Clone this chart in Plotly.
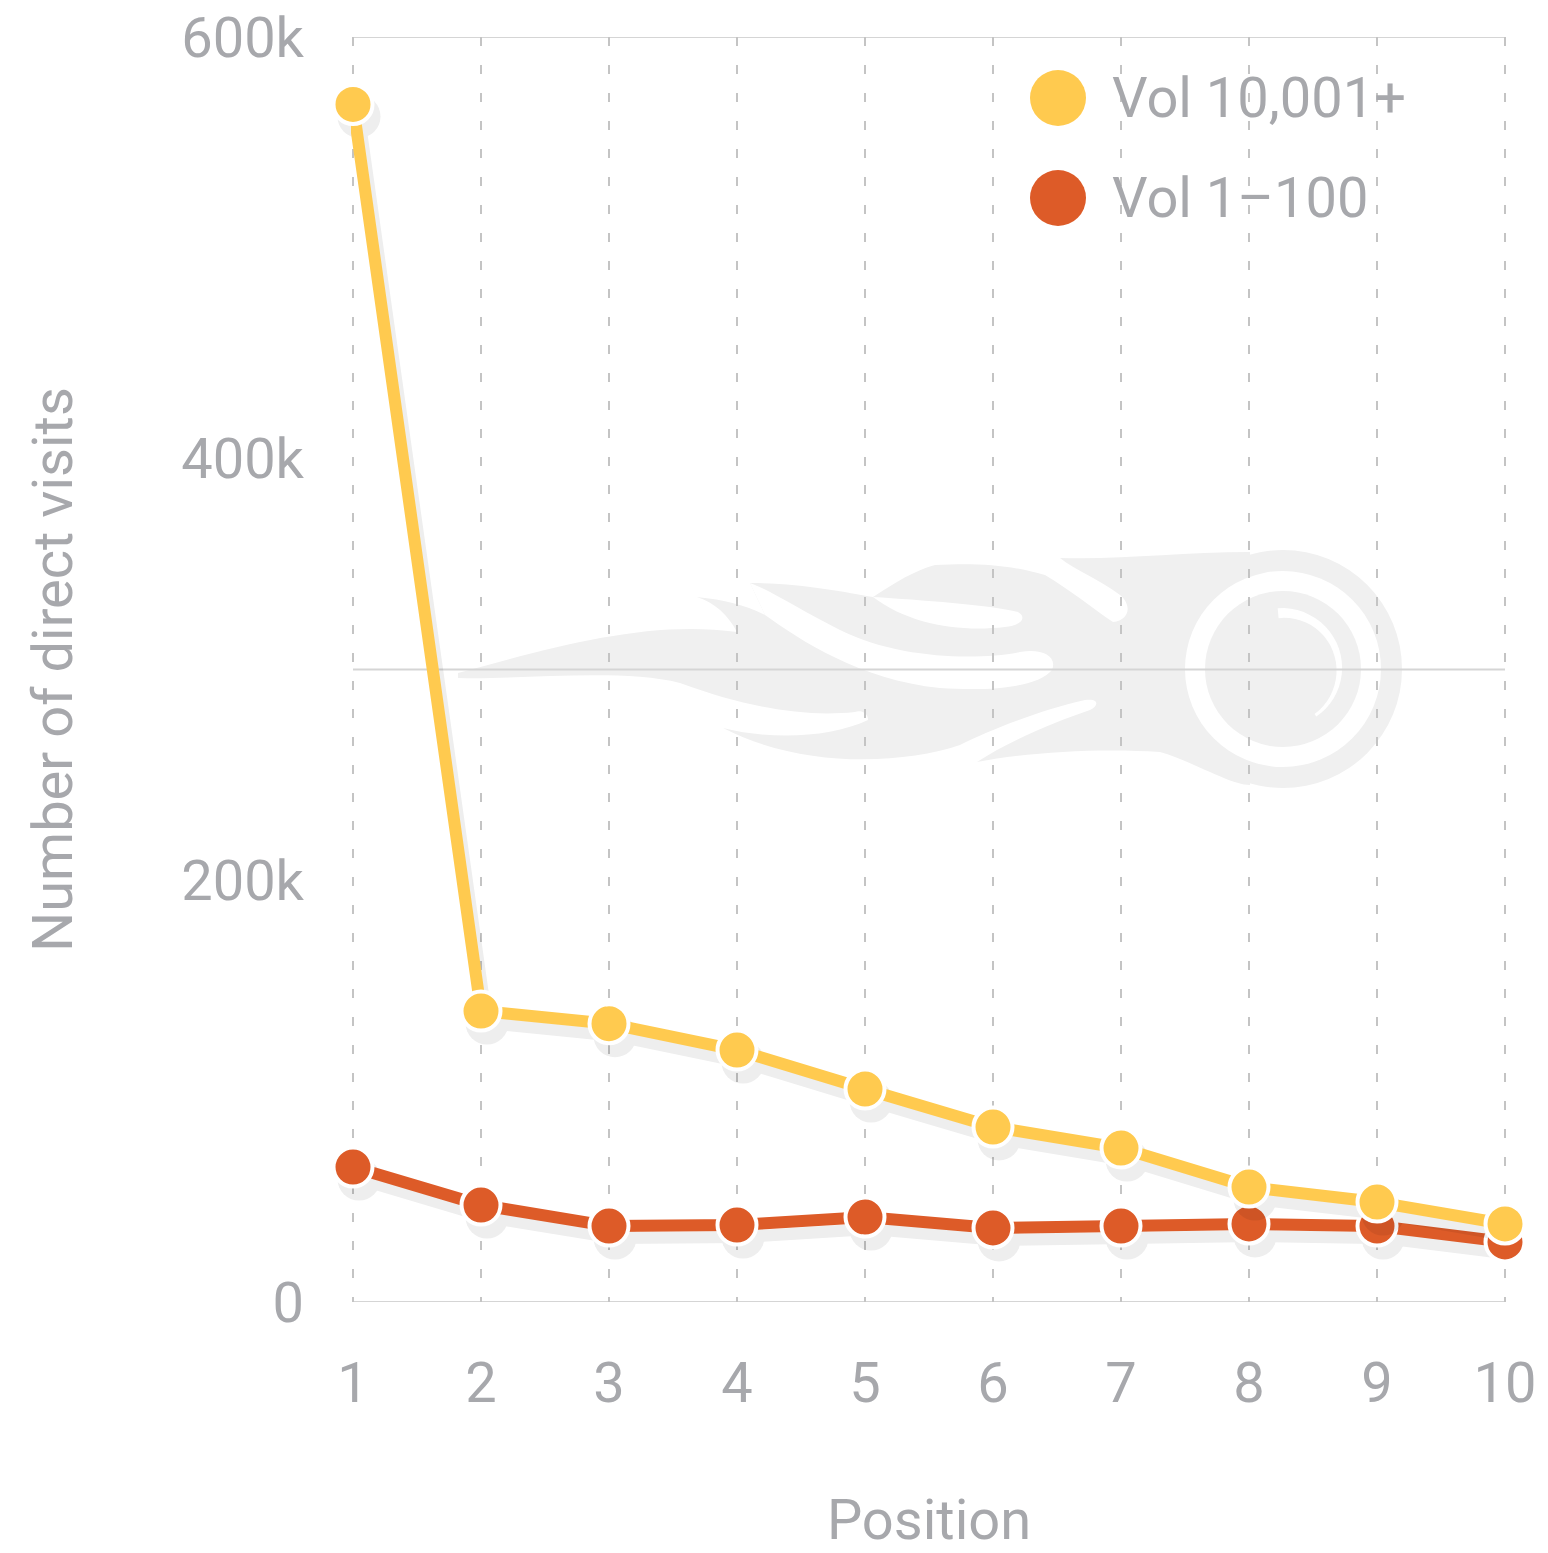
import re
import math
import plotly.graph_objects as go

# ---------------- data ----------------
positions = [1, 2, 3, 4, 5, 6, 7, 8, 9, 10]
vol_high = [568000, 138000, 132000, 119500, 101000, 83000, 73000, 54500, 47400, 37000]
vol_low = [64000, 46000, 36000, 36500, 40300, 35100, 36000, 37000, 36000, 28500]
series_names = ["Vol 10,001+", "Vol 1–100"]
series_colors = ["#FFCA4F", "#DD5B28"]
y_tickvals = [0, 200000, 400000, 600000]
y_ticktext = ["0", "200k", "400k", "600k"]
h_lines = [0, 300000, 600000]
x_title = "Position"
y_title = "Number of direct visits"

# ---------------- layout constants ----------------
OFF = 0                       # page body margin is removed by post_script below
W, H = 1548 - OFF, 1553 - OFF
EDGE = 2                      # px of x padding so edge grid lines are drawn
DATA_L, DATA_W = 353, 1152    # screen px of position 1 .. position 10
ML, MT = DATA_L - OFF - EDGE, 37 - OFF
PW, PH = DATA_W + 2 * EDGE, 1265
MR, MB = W - ML - PW, H - MT - PH
TEXT = "#A7A8AC"
FONT = "Roboto"
unit = (positions[-1] - positions[0]) / DATA_W
X_RANGE = [positions[0] - EDGE * unit, positions[-1] + EDGE * unit]
Y_RANGE = [0, 600000]

# shadow offset (pixels) converted into axis units
SH_DX, SH_DY = 6, 12
sdx = SH_DX * unit
sdy = SH_DY * (Y_RANGE[1] - Y_RANGE[0]) / PH


def px2paper(x, y):
    # x, y are screen pixels of the reference picture
    return (x - OFF - ML) / PW, (MT + PH - (y - OFF)) / PH


def path_px(cmd):
    toks = re.findall(r"[A-Za-z]|-?\d+(?:\.\d+)?", cmd)
    out, nums = [], []
    for t in toks:
        if t.isalpha():
            out.append(t)
        else:
            nums.append(float(t))
            if len(nums) == 2:
                px, py = px2paper(*nums)
                out.append(f"{px:.5f},{py:.5f}")
                nums = []
    return " ".join(out)


def circle_px(cx, cy, r, color):
    x0, y0 = px2paper(cx - r, cy + r)
    x1, y1 = px2paper(cx + r, cy - r)
    return dict(type="circle", xref="paper", yref="paper", x0=x0, y0=y0, x1=x1, y1=y1,
                fillcolor=color, line=dict(width=0), layer="below")


LOGO = "#F0F0F0"
shapes = []
# flame silhouette (watermark)
flame = """M 458 673 C 560 645 650 620 737 632 C 728 615 715 603 697 597
C 725 600 745 605 765 615 L 750 583 C 800 583 845 592 873 597
C 895 583 915 570 935 565 C 980 563 1010 565 1045 575
C 1070 590 1095 610 1113 622 C 1130 620 1132 605 1120 595
C 1100 580 1075 570 1060 558 C 1120 560 1180 552 1250 552 L 1250 785
C 1230 785 1190 760 1160 752 C 1100 748 1030 752 977 762
C 1010 740 1060 720 1090 710 C 1100 705 1098 698 1085 700
C 1040 710 990 730 960 745 C 900 765 800 768 723 728
C 770 740 830 738 868 720 C 868 712 860 710 855 712
C 800 718 740 705 680 683 C 620 668 520 680 458 678 Z"""
shapes.append(dict(type="path", xref="paper", yref="paper", path=path_px(flame),
                   fillcolor=LOGO, line=dict(width=0), layer="below"))
shapes.append(circle_px(1283, 669, 119, LOGO))
# white swooshes
s1 = """M 765 615 C 800 640 860 680 940 688 C 1000 692 1040 685 1052 670
C 1058 655 1040 648 1020 652 C 980 660 900 660 840 630 C 800 610 770 590 750 583 Z"""
s2 = """M 873 597 C 920 600 990 605 1018 612 C 1028 618 1020 626 1005 627
C 960 632 910 625 873 597 Z"""
for s in (s1, s2):
    shapes.append(dict(type="path", xref="paper", yref="paper", path=path_px(s),
                       fillcolor="white", line=dict(width=0), layer="below"))
shapes.append(circle_px(1283, 669, 98, "white"))
shapes.append(circle_px(1283, 669, 78, LOGO))
# hook arc
cx, cy = 1283, 669
a0, a1 = -95, 55
pts_out, pts_in = [], []
n = 24
for i in range(n + 1):
    a = math.radians(a0 + (a1 - a0) * i / n)
    ro = 61 - 3 * i / n
    ri = 51 + 4 * i / n
    pts_out.append((cx + ro * math.cos(a), cy + ro * math.sin(a)))
    pts_in.append((cx + ri * math.cos(a), cy + ri * math.sin(a)))
hook = "M " + " L ".join(f"{x:.1f} {y:.1f}" for x, y in pts_out) + " L " + \
       " L ".join(f"{x:.1f} {y:.1f}" for x, y in reversed(pts_in)) + " Z"
shapes.append(dict(type="path", xref="paper", yref="paper", path=path_px(hook),
                   fillcolor="white", line=dict(width=0), layer="below"))

# horizontal grid lines (span position 1 .. 10)
for v in h_lines:
    shapes.append(dict(type="line", xref="x", yref="y", x0=positions[0], x1=positions[-1],
                       y0=v, y1=v, line=dict(color="#D5D5D5", width=2), layer="below"))

# manual legend markers
legend_px = [(1058, 98), (1058, 198)]
annotations = []
for (lx, ly), name, col in zip(legend_px, series_names, series_colors):
    ax_, ay_ = px2paper(lx, ly)
    shapes.append(dict(type="circle", xref="paper", yref="paper",
                       xsizemode="pixel", ysizemode="pixel",
                       xanchor=ax_, yanchor=ay_,
                       x0=-28, x1=28, y0=-28, y1=28,
                       fillcolor=col, line=dict(width=0)))
    tx, ty = px2paper(lx + 52, ly)
    annotations.append(dict(xref="paper", yref="paper", x=tx, y=ty, text=name,
                            showarrow=False, xanchor="left", yanchor="middle",
                            font=dict(family=FONT, size=56, color=TEXT)))

fig = go.Figure()

series = [(vol_low, series_colors[1], series_names[1]),
          (vol_high, series_colors[0], series_names[0])]
ax = 2
for vals, col, name in series:
    # shadow
    fig.add_trace(go.Scatter(x=positions, y=vals, mode="lines+markers", name=name + " shadow",
                             line=dict(color="#000000", width=12),
                             marker=dict(size=43, color="#000000", line=dict(width=0)),
                             opacity=0.07, cliponaxis=False, showlegend=False,
                             hoverinfo="skip", xaxis=f"x{ax}", yaxis=f"y{ax}"))
    ax += 1
    fig.add_trace(go.Scatter(x=positions, y=vals, mode="lines+markers", name=name,
                             line=dict(color=col, width=12),
                             marker=dict(size=39, color=col, line=dict(width=4, color="white")),
                             cliponaxis=False, showlegend=False,
                             xaxis=f"x{ax}", yaxis=f"y{ax}"))
    ax += 1

layout = dict(
    width=W, height=H,
    margin=dict(l=ML, r=MR, t=MT, b=MB, pad=0),
    paper_bgcolor="white", plot_bgcolor="rgba(0,0,0,0)",
    font=dict(family=FONT, color=TEXT, size=56),
    showlegend=False,
    shapes=shapes, annotations=annotations,
    xaxis=dict(range=X_RANGE, tickmode="array", tickvals=positions,
               ticktext=[str(p) for p in positions],
               showgrid=True, gridcolor="#C4C4C4", gridwidth=2, griddash="9px,19px",
               zeroline=False, showline=False, ticks="",
               tickfont=dict(family=FONT, size=56, color=TEXT), ticklabelstandoff=43,
               ticklabeloverflow="allow",
               title=dict(text=x_title, font=dict(family=FONT, size=56, color=TEXT), standoff=88),
               automargin=False),
    yaxis=dict(range=Y_RANGE, tickmode="array", tickvals=y_tickvals, ticktext=y_ticktext,
               showgrid=False, zeroline=False, showline=False, ticks="",
               tickfont=dict(family=FONT, size=56, color=TEXT), ticklabelstandoff=46,
               ticklabeloverflow="allow",
               title=dict(text=y_title, font=dict(family=FONT, size=56, color=TEXT), standoff=90),
               automargin=False),
)
for i in range(2, 6):
    shadow = (i % 2 == 0)
    layout[f"xaxis{i}"] = dict(overlaying="x", visible=False,
                               range=[X_RANGE[0] - sdx, X_RANGE[1] - sdx] if shadow else X_RANGE)
    layout[f"yaxis{i}"] = dict(overlaying="y", visible=False,
                               range=[Y_RANGE[0] + sdy, Y_RANGE[1] + sdy] if shadow else Y_RANGE)
fig.update_layout(**layout)

fig.write_html("out.html", config={"displayModeBar": False},
               post_script="document.body.style.margin='0';document.body.style.overflow='hidden';")
